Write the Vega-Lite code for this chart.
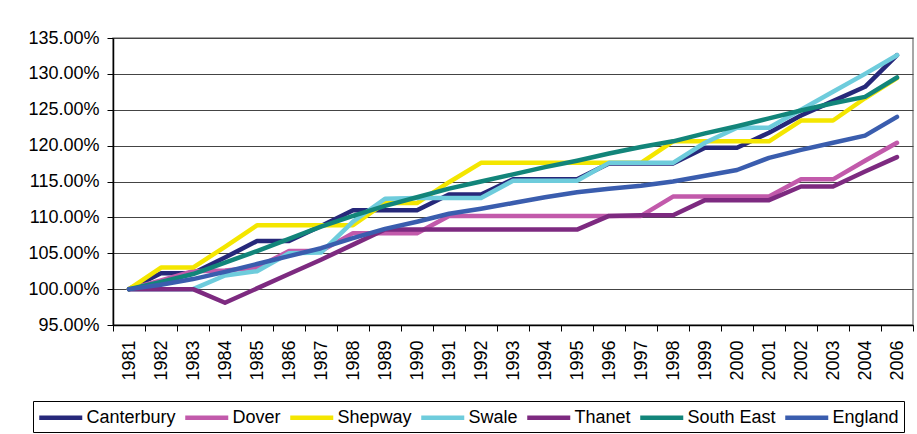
{
  "$schema": "https://vega.github.io/schema/vega-lite/v6.json",
  "autosize": {"type": "none"},
  "padding": {"left": 113, "top": 38, "right": 4, "bottom": 109},
  "width": 800,
  "height": 287,
  "background": "white",
  "config": {
    "font": "Liberation Sans",
    "view": {"stroke": "#8a8a8a", "strokeWidth": 1.5},
    "axis": {"labelFont": "Liberation Sans", "labelFontSize": 18, "labelColor": "black", "domainColor": "black", "tickColor": "black", "title": null},
    "legend": {"labelFont": "Liberation Sans", "labelFontSize": 18, "labelColor": "black"}
  },
  "datasets": {
    "growth": [
      {"year": "1981", "series": "Canterbury", "value": 1.000},
      {"year": "1982", "series": "Canterbury", "value": 1.022},
      {"year": "1983", "series": "Canterbury", "value": 1.022},
      {"year": "1984", "series": "Canterbury", "value": 1.044},
      {"year": "1985", "series": "Canterbury", "value": 1.067},
      {"year": "1986", "series": "Canterbury", "value": 1.067},
      {"year": "1987", "series": "Canterbury", "value": 1.088},
      {"year": "1988", "series": "Canterbury", "value": 1.110},
      {"year": "1989", "series": "Canterbury", "value": 1.110},
      {"year": "1990", "series": "Canterbury", "value": 1.110},
      {"year": "1991", "series": "Canterbury", "value": 1.132},
      {"year": "1992", "series": "Canterbury", "value": 1.132},
      {"year": "1993", "series": "Canterbury", "value": 1.153},
      {"year": "1994", "series": "Canterbury", "value": 1.153},
      {"year": "1995", "series": "Canterbury", "value": 1.153},
      {"year": "1996", "series": "Canterbury", "value": 1.175},
      {"year": "1997", "series": "Canterbury", "value": 1.175},
      {"year": "1998", "series": "Canterbury", "value": 1.175},
      {"year": "1999", "series": "Canterbury", "value": 1.197},
      {"year": "2000", "series": "Canterbury", "value": 1.197},
      {"year": "2001", "series": "Canterbury", "value": 1.218},
      {"year": "2002", "series": "Canterbury", "value": 1.242},
      {"year": "2003", "series": "Canterbury", "value": 1.262},
      {"year": "2004", "series": "Canterbury", "value": 1.282},
      {"year": "2006", "series": "Canterbury", "value": 1.326},

      {"year": "1981", "series": "Dover", "value": 1.000},
      {"year": "1982", "series": "Dover", "value": 1.012},
      {"year": "1983", "series": "Dover", "value": 1.025},
      {"year": "1984", "series": "Dover", "value": 1.026},
      {"year": "1985", "series": "Dover", "value": 1.030},
      {"year": "1986", "series": "Dover", "value": 1.053},
      {"year": "1987", "series": "Dover", "value": 1.053},
      {"year": "1988", "series": "Dover", "value": 1.078},
      {"year": "1989", "series": "Dover", "value": 1.078},
      {"year": "1990", "series": "Dover", "value": 1.078},
      {"year": "1991", "series": "Dover", "value": 1.102},
      {"year": "1992", "series": "Dover", "value": 1.102},
      {"year": "1993", "series": "Dover", "value": 1.102},
      {"year": "1994", "series": "Dover", "value": 1.102},
      {"year": "1995", "series": "Dover", "value": 1.102},
      {"year": "1996", "series": "Dover", "value": 1.102},
      {"year": "1997", "series": "Dover", "value": 1.102},
      {"year": "1998", "series": "Dover", "value": 1.129},
      {"year": "1999", "series": "Dover", "value": 1.129},
      {"year": "2000", "series": "Dover", "value": 1.129},
      {"year": "2001", "series": "Dover", "value": 1.129},
      {"year": "2002", "series": "Dover", "value": 1.153},
      {"year": "2003", "series": "Dover", "value": 1.153},
      {"year": "2004", "series": "Dover", "value": 1.179},
      {"year": "2006", "series": "Dover", "value": 1.204},

      {"year": "1981", "series": "Shepway", "value": 1.000},
      {"year": "1982", "series": "Shepway", "value": 1.030},
      {"year": "1983", "series": "Shepway", "value": 1.030},
      {"year": "1984", "series": "Shepway", "value": 1.059},
      {"year": "1985", "series": "Shepway", "value": 1.089},
      {"year": "1986", "series": "Shepway", "value": 1.089},
      {"year": "1987", "series": "Shepway", "value": 1.089},
      {"year": "1988", "series": "Shepway", "value": 1.089},
      {"year": "1989", "series": "Shepway", "value": 1.120},
      {"year": "1990", "series": "Shepway", "value": 1.120},
      {"year": "1991", "series": "Shepway", "value": 1.149},
      {"year": "1992", "series": "Shepway", "value": 1.176},
      {"year": "1993", "series": "Shepway", "value": 1.176},
      {"year": "1994", "series": "Shepway", "value": 1.176},
      {"year": "1995", "series": "Shepway", "value": 1.176},
      {"year": "1996", "series": "Shepway", "value": 1.176},
      {"year": "1997", "series": "Shepway", "value": 1.176},
      {"year": "1998", "series": "Shepway", "value": 1.206},
      {"year": "1999", "series": "Shepway", "value": 1.206},
      {"year": "2000", "series": "Shepway", "value": 1.206},
      {"year": "2001", "series": "Shepway", "value": 1.206},
      {"year": "2002", "series": "Shepway", "value": 1.235},
      {"year": "2003", "series": "Shepway", "value": 1.235},
      {"year": "2004", "series": "Shepway", "value": 1.266},
      {"year": "2006", "series": "Shepway", "value": 1.294},

      {"year": "1981", "series": "Swale", "value": 1.000},
      {"year": "1982", "series": "Swale", "value": 1.000},
      {"year": "1983", "series": "Swale", "value": 1.000},
      {"year": "1984", "series": "Swale", "value": 1.019},
      {"year": "1985", "series": "Swale", "value": 1.025},
      {"year": "1986", "series": "Swale", "value": 1.050},
      {"year": "1987", "series": "Swale", "value": 1.051},
      {"year": "1988", "series": "Swale", "value": 1.094},
      {"year": "1989", "series": "Swale", "value": 1.126},
      {"year": "1990", "series": "Swale", "value": 1.127},
      {"year": "1991", "series": "Swale", "value": 1.127},
      {"year": "1992", "series": "Swale", "value": 1.127},
      {"year": "1993", "series": "Swale", "value": 1.151},
      {"year": "1994", "series": "Swale", "value": 1.151},
      {"year": "1995", "series": "Swale", "value": 1.151},
      {"year": "1996", "series": "Swale", "value": 1.176},
      {"year": "1997", "series": "Swale", "value": 1.176},
      {"year": "1998", "series": "Swale", "value": 1.176},
      {"year": "1999", "series": "Swale", "value": 1.204},
      {"year": "2000", "series": "Swale", "value": 1.225},
      {"year": "2001", "series": "Swale", "value": 1.225},
      {"year": "2002", "series": "Swale", "value": 1.250},
      {"year": "2003", "series": "Swale", "value": 1.275},
      {"year": "2004", "series": "Swale", "value": 1.300},
      {"year": "2006", "series": "Swale", "value": 1.326},

      {"year": "1981", "series": "Thanet", "value": 1.000},
      {"year": "1982", "series": "Thanet", "value": 1.000},
      {"year": "1983", "series": "Thanet", "value": 1.000},
      {"year": "1984", "series": "Thanet", "value": 0.981},
      {"year": "1985", "series": "Thanet", "value": 1.001},
      {"year": "1986", "series": "Thanet", "value": 1.021},
      {"year": "1987", "series": "Thanet", "value": 1.041},
      {"year": "1988", "series": "Thanet", "value": 1.062},
      {"year": "1989", "series": "Thanet", "value": 1.083},
      {"year": "1990", "series": "Thanet", "value": 1.083},
      {"year": "1991", "series": "Thanet", "value": 1.083},
      {"year": "1992", "series": "Thanet", "value": 1.083},
      {"year": "1993", "series": "Thanet", "value": 1.083},
      {"year": "1994", "series": "Thanet", "value": 1.083},
      {"year": "1995", "series": "Thanet", "value": 1.083},
      {"year": "1996", "series": "Thanet", "value": 1.102},
      {"year": "1997", "series": "Thanet", "value": 1.103},
      {"year": "1998", "series": "Thanet", "value": 1.103},
      {"year": "1999", "series": "Thanet", "value": 1.124},
      {"year": "2000", "series": "Thanet", "value": 1.124},
      {"year": "2001", "series": "Thanet", "value": 1.124},
      {"year": "2002", "series": "Thanet", "value": 1.143},
      {"year": "2003", "series": "Thanet", "value": 1.143},
      {"year": "2004", "series": "Thanet", "value": 1.164},
      {"year": "2006", "series": "Thanet", "value": 1.184},

      {"year": "1981", "series": "South East", "value": 1.000},
      {"year": "1982", "series": "South East", "value": 1.010},
      {"year": "1983", "series": "South East", "value": 1.021},
      {"year": "1984", "series": "South East", "value": 1.037},
      {"year": "1985", "series": "South East", "value": 1.053},
      {"year": "1986", "series": "South East", "value": 1.070},
      {"year": "1987", "series": "South East", "value": 1.087},
      {"year": "1988", "series": "South East", "value": 1.102},
      {"year": "1989", "series": "South East", "value": 1.116},
      {"year": "1990", "series": "South East", "value": 1.128},
      {"year": "1991", "series": "South East", "value": 1.140},
      {"year": "1992", "series": "South East", "value": 1.150},
      {"year": "1993", "series": "South East", "value": 1.160},
      {"year": "1994", "series": "South East", "value": 1.170},
      {"year": "1995", "series": "South East", "value": 1.179},
      {"year": "1996", "series": "South East", "value": 1.189},
      {"year": "1997", "series": "South East", "value": 1.198},
      {"year": "1998", "series": "South East", "value": 1.206},
      {"year": "1999", "series": "South East", "value": 1.217},
      {"year": "2000", "series": "South East", "value": 1.227},
      {"year": "2001", "series": "South East", "value": 1.238},
      {"year": "2002", "series": "South East", "value": 1.249},
      {"year": "2003", "series": "South East", "value": 1.259},
      {"year": "2004", "series": "South East", "value": 1.268},
      {"year": "2006", "series": "South East", "value": 1.295},

      {"year": "1981", "series": "England", "value": 1.000},
      {"year": "1982", "series": "England", "value": 1.006},
      {"year": "1983", "series": "England", "value": 1.014},
      {"year": "1984", "series": "England", "value": 1.024},
      {"year": "1985", "series": "England", "value": 1.035},
      {"year": "1986", "series": "England", "value": 1.046},
      {"year": "1987", "series": "England", "value": 1.057},
      {"year": "1988", "series": "England", "value": 1.071},
      {"year": "1989", "series": "England", "value": 1.084},
      {"year": "1990", "series": "England", "value": 1.094},
      {"year": "1991", "series": "England", "value": 1.105},
      {"year": "1992", "series": "England", "value": 1.112},
      {"year": "1993", "series": "England", "value": 1.120},
      {"year": "1994", "series": "England", "value": 1.128},
      {"year": "1995", "series": "England", "value": 1.135},
      {"year": "1996", "series": "England", "value": 1.140},
      {"year": "1997", "series": "England", "value": 1.144},
      {"year": "1998", "series": "England", "value": 1.150},
      {"year": "1999", "series": "England", "value": 1.158},
      {"year": "2000", "series": "England", "value": 1.166},
      {"year": "2001", "series": "England", "value": 1.183},
      {"year": "2002", "series": "England", "value": 1.194},
      {"year": "2003", "series": "England", "value": 1.204},
      {"year": "2004", "series": "England", "value": 1.214},
      {"year": "2006", "series": "England", "value": 1.240}
    ]
  },
  "data": {"name": "growth"},
  "mark": {"type": "line", "strokeJoin": "round", "strokeCap": "round"},
  "encoding": {
    "x": {
      "field": "year",
      "type": "ordinal",
      "scale": {"type": "band", "paddingInner": 0, "paddingOuter": 0},
      "axis": {"labelAngle": 270, "labelAlign": "right", "labelBaseline": "middle", "labelPadding": 9, "tickSize": 6, "tickBand": "extent", "grid": false, "domainWidth": 1.5}
    },
    "y": {
      "field": "value",
      "type": "quantitative",
      "scale": {"domain": [0.95, 1.35], "nice": false, "zero": false},
      "axis": {"format": ".2%", "values": [0.95, 1.0, 1.05, 1.1, 1.15, 1.2, 1.25, 1.3, 1.35], "tickSize": 6, "labelPadding": 8, "grid": true, "gridColor": "#444444", "gridWidth": 1, "gridOpacity": 1, "domainWidth": 1.5}
    },
    "color": {
      "field": "series",
      "type": "nominal",
      "scale": {
        "domain": ["Canterbury", "Dover", "Shepway", "Swale", "Thanet", "South East", "England"],
        "range": ["#26287A", "#C25AAB", "#F4E600", "#6ECCDC", "#7D2A80", "#12857A", "#3A5DAE"]
      },
      "legend": {
        "title": null,
        "orient": "none",
        "legendX": -80,
        "legendY": 363,
        "direction": "horizontal",
        "columns": 7,
        "symbolType": "M-1.14,0H3.64",
        "symbolSize": 324,
        "symbolOffset": 0,
        "labelOffset": 25.5,
        "columnPadding": 0,
        "padding": 5,
        "strokeColor": "black",
        "fillColor": "white"
      }
    },
    "strokeWidth": {
      "field": "series",
      "type": "nominal",
      "scale": {
        "domain": ["Canterbury", "Dover", "Shepway", "Swale", "Thanet", "South East", "England"],
        "range": [4.5, 4.5, 2, 4.5, 4.5, 4.5, 4.5]
      }
    }
  }
}
